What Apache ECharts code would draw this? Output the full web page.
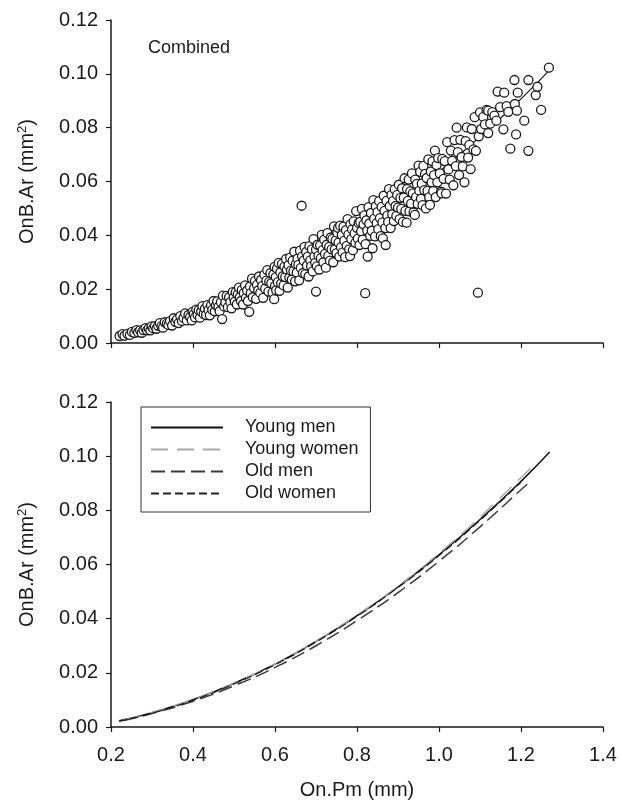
<!DOCTYPE html>
<html>
<head>
<meta charset="utf-8">
<script src="https://cdn.jsdelivr.net/npm/echarts@6/dist/echarts.min.js"></script>
<style>
  html, body { margin: 0; padding: 0; background: #fff; }
  #chart-container { width: 620px; height: 802px; }
</style>
</head>
<body>
<div id="chart-container"></div>
<script>
// x ticks and y ticks (shared by both panels)
var xTicks = [0.2, 0.4, 0.6, 0.8, 1.0, 1.2, 1.4];
var yTicks = [0.00, 0.02, 0.04, 0.06, 0.08, 0.10, 0.12];

// top panel: all osteons, [On.Pm, OnB.Ar]
var combined = [
  [0.221,0.0026],[0.228,0.0033],[0.233,0.0027],[0.240,0.0034],[0.246,0.0030],[0.251,0.0041],[0.257,0.0038],[0.262,0.0048],
  [0.266,0.0040],[0.271,0.0047],[0.275,0.0038],[0.279,0.0048],[0.284,0.0055],[0.288,0.0047],[0.292,0.0054],[0.296,0.0047],
  [0.299,0.0062],
  [0.303,0.0055],[0.307,0.0063],[0.311,0.0053],[0.315,0.0064],[0.319,0.0074],[0.323,0.0062],[0.327,0.0057],[0.331,0.0077],
  [0.336,0.0072],[0.340,0.0067],[0.344,0.0081],[0.349,0.0065],[0.353,0.0092],[0.357,0.0079],[0.361,0.0088],[0.365,0.0074],
  [0.369,0.0100],[0.373,0.0082],[0.377,0.0093],[0.381,0.0110],[0.385,0.0084],[0.389,0.0104],[0.393,0.0097],[0.397,0.0084],
  [0.399,0.0116],
  [0.402,0.0107],[0.405,0.0095],[0.408,0.0124],[0.411,0.0105],[0.414,0.0122],[0.417,0.0094],[0.420,0.0117],[0.423,0.0137],
  [0.426,0.0108],[0.429,0.0128],[0.432,0.0104],[0.435,0.0141],[0.438,0.0123],[0.441,0.0103],[0.444,0.0140],[0.447,0.0123],
  [0.450,0.0156],[0.453,0.0118],[0.456,0.0141],[0.459,0.0155],[0.462,0.0134],[0.465,0.0118],[0.468,0.0152],[0.471,0.0089],
  [0.473,0.0176],[0.476,0.0136],[0.479,0.0151],[0.482,0.0175],[0.485,0.0133],[0.488,0.0170],[0.491,0.0152],[0.494,0.0129],
  [0.497,0.0189],[0.499,0.0169],
  [0.502,0.0154],[0.504,0.0188],[0.507,0.0143],[0.509,0.0181],[0.512,0.0206],[0.514,0.0170],[0.517,0.0156],[0.519,0.0197],
  [0.522,0.0143],[0.524,0.0185],[0.527,0.0214],[0.529,0.0168],[0.532,0.0195],[0.534,0.0156],[0.537,0.0116],[0.539,0.0210],
  [0.541,0.0185],[0.544,0.0239],[0.546,0.0170],[0.549,0.0204],[0.551,0.0231],[0.554,0.0164],[0.556,0.0216],[0.559,0.0195],
  [0.561,0.0247],[0.564,0.0186],[0.566,0.0234],[0.569,0.0212],[0.571,0.0168],[0.574,0.0254],[0.576,0.0202],[0.579,0.0232],
  [0.581,0.0271],[0.584,0.0191],[0.586,0.0227],[0.589,0.0260],[0.591,0.0222],[0.594,0.0188],[0.596,0.0255],[0.598,0.0163],
  [0.599,0.0283],[0.600,0.0212],
  [0.602,0.0245],[0.603,0.0196],[0.605,0.0277],[0.607,0.0226],[0.609,0.0298],[0.611,0.0194],[0.613,0.0262],[0.615,0.0221],
  [0.617,0.0294],[0.619,0.0248],[0.621,0.0214],[0.623,0.0284],[0.625,0.0245],[0.627,0.0312],[0.629,0.0273],[0.631,0.0206],
  [0.633,0.0289],[0.635,0.0243],[0.637,0.0317],[0.639,0.0269],[0.641,0.0236],[0.643,0.0306],[0.645,0.0267],[0.647,0.0339],
  [0.649,0.0229],[0.651,0.0293],[0.653,0.0262],[0.655,0.0314],[0.657,0.0290],[0.659,0.0233],[0.661,0.0343],[0.663,0.0279],
  [0.665,0.0510],[0.666,0.0322],[0.668,0.0260],[0.670,0.0306],[0.672,0.0357],[0.674,0.0256],[0.676,0.0338],[0.678,0.0288],
  [0.680,0.0321],[0.682,0.0247],[0.684,0.0360],[0.686,0.0307],[0.688,0.0285],[0.690,0.0348],[0.692,0.0266],[0.694,0.0386],
  [0.696,0.0322],[0.698,0.0298],[0.700,0.0191],[0.700,0.0347],
  [0.702,0.0285],[0.704,0.0365],[0.706,0.0324],[0.708,0.0273],[0.710,0.0363],[0.712,0.0315],[0.714,0.0402],[0.716,0.0345],
  [0.718,0.0300],[0.720,0.0384],[0.722,0.0331],[0.724,0.0280],[0.726,0.0365],[0.728,0.0408],[0.730,0.0324],[0.732,0.0357],
  [0.734,0.0306],[0.736,0.0392],[0.738,0.0348],[0.740,0.0387],[0.742,0.0300],[0.744,0.0433],[0.746,0.0348],[0.748,0.0381],
  [0.750,0.0334],[0.752,0.0410],[0.754,0.0428],[0.755,0.0373],[0.757,0.0321],[0.759,0.0436],[0.761,0.0356],[0.763,0.0401],
  [0.765,0.0337],[0.767,0.0432],[0.769,0.0380],[0.771,0.0319],[0.773,0.0419],[0.775,0.0361],[0.777,0.0460],[0.779,0.0403],
  [0.781,0.0348],[0.783,0.0323],[0.784,0.0441],[0.786,0.0386],[0.788,0.0422],[0.790,0.0345],[0.792,0.0452],[0.794,0.0407],
  [0.796,0.0372],[0.798,0.0490],[0.800,0.0428],
  [0.802,0.0388],[0.804,0.0446],[0.806,0.0364],[0.808,0.0450],[0.810,0.0415],[0.812,0.0498],[0.814,0.0384],[0.816,0.0441],
  [0.818,0.0474],[0.820,0.0185],[0.821,0.0367],[0.823,0.0456],[0.825,0.0418],[0.826,0.0321],[0.828,0.0505],[0.830,0.0444],
  [0.832,0.0398],[0.834,0.0483],[0.836,0.0417],[0.838,0.0352],[0.840,0.0531],[0.842,0.0462],[0.844,0.0396],[0.846,0.0508],
  [0.848,0.0445],[0.850,0.0486],[0.852,0.0423],[0.854,0.0527],[0.856,0.0464],[0.858,0.0397],[0.860,0.0506],[0.862,0.0448],
  [0.863,0.0389],[0.865,0.0547],[0.867,0.0491],[0.869,0.0427],[0.870,0.0364],[0.872,0.0528],[0.874,0.0473],[0.876,0.0450],
  [0.878,0.0572],[0.880,0.0509],[0.882,0.0427],[0.884,0.0550],[0.886,0.0478],[0.888,0.0527],[0.890,0.0453],[0.892,0.0571],
  [0.894,0.0509],[0.896,0.0472],[0.898,0.0550],[0.900,0.0503],
  [0.902,0.0588],[0.904,0.0460],[0.906,0.0539],[0.908,0.0498],[0.910,0.0575],[0.912,0.0450],[0.914,0.0540],[0.916,0.0612],
  [0.918,0.0491],[0.921,0.0447],[0.922,0.0572],[0.924,0.0528],[0.926,0.0607],[0.928,0.0489],[0.930,0.0563],[0.932,0.0518],
  [0.934,0.0630],[0.936,0.0556],[0.938,0.0484],[0.941,0.0476],[0.942,0.0607],[0.944,0.0542],[0.946,0.0591],[0.948,0.0517],
  [0.950,0.0659],[0.952,0.0566],[0.954,0.0636],[0.956,0.0536],[0.958,0.0592],[0.960,0.0512],[0.962,0.0658],[0.964,0.0568],
  [0.966,0.0628],[0.968,0.0500],[0.970,0.0613],[0.972,0.0565],[0.974,0.0682],[0.976,0.0542],[0.978,0.0513],[0.980,0.0637],
  [0.982,0.0597],[0.984,0.0675],[0.986,0.0564],[0.988,0.0624],[0.990,0.0715],[0.992,0.0542],[0.994,0.0661],[0.996,0.0597],
  [0.998,0.0687],
  [1.002,0.0630],[1.005,0.0562],[1.006,0.0556],[1.008,0.0684],[1.011,0.0610],[1.014,0.0676],[1.017,0.0555],[1.020,0.0746],
  [1.023,0.0645],[1.026,0.0607],[1.029,0.0715],[1.032,0.0677],[1.035,0.0586],[1.038,0.0754],[1.041,0.0657],[1.043,0.0800],
  [1.046,0.0709],[1.049,0.0624],[1.052,0.0755],[1.055,0.0691],[1.058,0.0656],[1.062,0.0597],[1.065,0.0750],[1.068,0.0801],
  [1.071,0.0689],[1.074,0.0736],[1.077,0.0646],[1.080,0.0795],[1.084,0.0719],[1.087,0.0839],[1.090,0.0714],[1.095,0.0187],
  [1.097,0.0768],[1.100,0.0857],
  [1.103,0.0795],[1.108,0.0840],[1.112,0.0812],[1.116,0.0866],[1.120,0.0780],[1.120,0.0863],[1.125,0.0815],[1.130,0.0858],
  [1.135,0.0845],[1.140,0.0826],[1.143,0.0934],[1.149,0.0876],[1.157,0.0794],[1.159,0.0930],[1.165,0.0880],[1.169,0.0859],
  [1.174,0.0722],[1.184,0.0977],[1.185,0.0888],[1.188,0.0775],[1.190,0.0863],[1.192,0.0930],[1.208,0.0826],[1.218,0.0977],
  [1.218,0.0714],[1.236,0.0921],[1.240,0.0952],[1.249,0.0866],[1.268,0.1023]
];

// regression curves (bottom panel)
var ymX = [0.22, 0.3, 0.4, 0.5, 0.6, 0.7, 0.8, 0.9, 1.0, 1.1, 1.2, 1.27];
var ymY = [0.0023, 0.0053, 0.0101, 0.0161, 0.0232, 0.0316, 0.0411, 0.0517, 0.0636, 0.0766, 0.0907, 0.1015];
var ywX = [0.23, 0.3, 0.4, 0.5, 0.6, 0.7, 0.8, 0.9, 1.0, 1.1, 1.2, 1.24];
var ywY = [0.0026, 0.0054, 0.0102, 0.0162, 0.0233, 0.0317, 0.0413, 0.0520, 0.0641, 0.0775, 0.0921, 0.0978];
var omX = [0.23, 0.3, 0.4, 0.5, 0.6, 0.7, 0.8, 0.9, 1.0, 1.1, 1.2, 1.222];
var omY = [0.0024, 0.0050, 0.0095, 0.0152, 0.0220, 0.0300, 0.0393, 0.0496, 0.0612, 0.0739, 0.0876, 0.0905];
var owX = [0.22, 0.3, 0.4, 0.5, 0.6, 0.7, 0.8, 0.9, 1.0, 1.1, 1.2];
var owY = [0.0021, 0.0051, 0.0099, 0.0159, 0.0230, 0.0314, 0.0409, 0.0515, 0.0633, 0.0763, 0.0904];

var groups = ['Young men', 'Young women', 'Old men', 'Old women'];

function zip(xs, ys) {
  return xs.map(function (x, i) { return [x, ys[i]]; });
}

var font = 'Liberation Sans, Arial, sans-serif';
var ink = '#1a1a1a';

var dom = document.getElementById('chart-container');
var myChart = echarts.init(dom, null, { renderer: 'canvas' });

function xAxisOf(grid, showLabels) {
  return {
    type: 'value',
    gridIndex: grid,
    min: xTicks[0],
    max: xTicks[xTicks.length - 1],
    interval: 0.2,
    name: showLabels ? 'On.Pm (mm)' : '',
    nameLocation: 'middle',
    nameGap: 53,
    nameTextStyle: { fontFamily: font, fontSize: 20, color: ink },
    axisLine: { show: true, onZero: false, lineStyle: { color: ink, width: 1.5 } },
    axisTick: { show: true, length: 5, lineStyle: { color: ink, width: 1.2 } },
    axisLabel: {
      show: showLabels,
      margin: 18,
      fontFamily: font,
      fontSize: 20,
      color: ink,
      formatter: function (v) { return v.toFixed(1); }
    },
    splitLine: { show: false }
  };
}

function yAxisOf(grid) {
  return {
    type: 'value',
    gridIndex: grid,
    min: yTicks[0],
    max: yTicks[yTicks.length - 1],
    interval: 0.02,
    name: 'OnB.Ar (mm{sup|2})',
    nameLocation: 'middle',
    nameGap: 73,
    nameTextStyle: {
      fontFamily: font, fontSize: 20, color: ink,
      rich: { sup: { fontFamily: font, fontSize: 13, color: ink, padding: [0, 0, 9, 0] } }
    },
    axisLine: { show: true, onZero: false, lineStyle: { color: ink, width: 1.5 } },
    axisTick: { show: true, length: 5, lineStyle: { color: ink, width: 1.2 } },
    axisLabel: {
      margin: 13,
      fontFamily: font,
      fontSize: 20,
      color: ink,
      formatter: function (v) { return v.toFixed(2); }
    },
    splitLine: { show: false }
  };
}

function curve(name, xs, ys, color, width, dash) {
  return {
    name: name,
    type: 'line',
    xAxisIndex: 1,
    yAxisIndex: 1,
    data: zip(xs, ys),
    smooth: true,
    symbol: 'none',
    lineStyle: { color: color, width: width, type: dash },
    itemStyle: { color: color }
  };
}

var option = {
  animation: false,
  backgroundColor: '#fff',
  title: {
    text: 'Combined',
    left: 143,
    top: 34,
    textStyle: { fontFamily: font, fontSize: 18, fontWeight: 'normal', color: ink }
  },
  grid: [
    { left: 111, right: 17, top: 20, height: 323 },
    { left: 111, right: 17, top: 402, height: 325 }
  ],
  legend: {
    data: groups,
    orient: 'vertical',
    left: 141,
    top: 407,
    selectedMode: false,
    backgroundColor: '#fff',
    borderColor: '#333',
    borderWidth: 1,
    padding: [11, 12, 9, 9],
    itemWidth: 72,
    itemHeight: 10,
    itemGap: 3,
    itemStyle: { opacity: 0 },
    textStyle: { fontFamily: font, fontSize: 18, color: ink, lineHeight: 19, padding: [0, 0, 0, 17] }
  },
  xAxis: [xAxisOf(0, false), xAxisOf(1, true)],
  yAxis: [yAxisOf(0), yAxisOf(1)],
  series: [
    {
      name: 'Fit',
      type: 'line',
      xAxisIndex: 0,
      yAxisIndex: 0,
      data: zip(ymX, ymY),
      smooth: true,
      symbol: 'none',
      z: 1,
      lineStyle: { color: ink, width: 1.2 }
    },
    {
      name: 'Combined',
      type: 'scatter',
      xAxisIndex: 0,
      yAxisIndex: 0,
      data: combined,
      symbol: 'circle',
      symbolSize: 9,
      z: 2,
      itemStyle: { color: '#fff', borderColor: ink, borderWidth: 1.3, opacity: 1 }
    },
    curve('Young men', ymX, ymY, '#111', 1.5, 'solid'),
    curve('Young women', ywX, ywY, '#a8a8a8', 1.4, [17, 9]),
    curve('Old men', omX, omY, '#3a3a3a', 1.5, [14, 6]),
    curve('Old women', owX, owY, '#222', 1.3, [8, 4])
  ]
};

myChart.setOption(option);
window.addEventListener('resize', myChart.resize);
</script>
</body>
</html>
